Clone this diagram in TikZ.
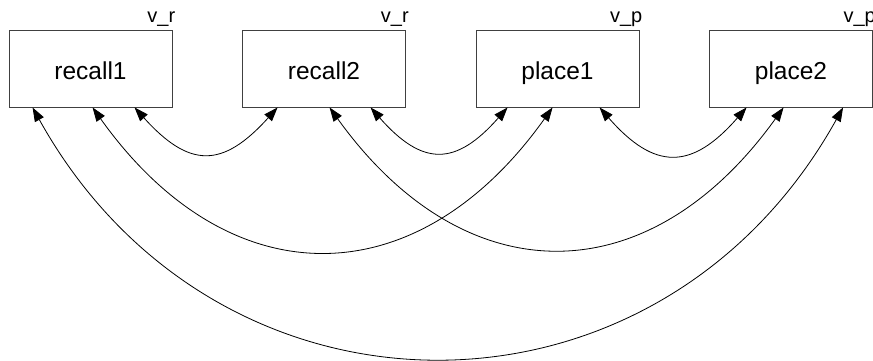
\documentclass[tikz,border=0pt]{standalone}
\usepackage{fontspec}
\setmainfont{Liberation Sans}
\usetikzlibrary{arrows.meta}
\begin{document}
\begin{tikzpicture}[x=1pt,y=-1pt,
  var/.style={draw=black!75, line width=0.9pt, minimum width=163pt, minimum height=77pt, inner sep=0pt, font=\fontsize{24.5}{28}\selectfont, text height=21pt, text depth=0pt},
  lbl/.style={anchor=base east, inner sep=0pt, font=\fontsize{20}{24}\selectfont},
  cov/.style={{Triangle[length=14pt,width=10pt]}-{Triangle[length=14pt,width=10pt]}, line width=0.8pt}]
\useasboundingbox (0,0) rectangle (873,360);
\node[var] (r1) at (90.5,68.5) {recall1};
\node[var] (r2) at (324,68.5) {recall2};
\node[var] (p1) at (557.5,68.5) {place1};
\node[var] (p2) at (791,68.5) {place2};
\node[lbl] (l1) at ([xshift=3pt,yshift=6.7pt]r1.north east) {v\_r};
\node[lbl] (l2) at ([xshift=3pt,yshift=6.7pt]r2.north east) {v\_r};
\node[lbl] (l3) at ([xshift=3pt,yshift=6.7pt]p1.north east) {v\_p};
\node[lbl] (l4) at ([xshift=3pt,yshift=6.7pt]p2.north east) {v\_p};
% short arcs
\draw[cov] ([xshift=126pt]r1.south west) .. controls +(55,61) and +(-55,61) .. ([xshift=35.5pt]r2.south west);
\draw[cov] ([xshift=128.5pt]r2.south west) .. controls +(52,59) and +(-52,59) .. ([xshift=32pt]p1.south west);
\draw[cov] ([xshift=124pt]p1.south west) .. controls +(55,63) and +(-55,63) .. ([xshift=37.5pt]p2.south west);
% medium arcs
\draw[cov] ([xshift=84pt]r1.south west) .. controls +(136,191) and +(-136,191) .. ([xshift=77pt]p1.south west);
\draw[cov] ([xshift=87.5pt]r2.south west) .. controls +(135,188) and +(-135,188) .. ([xshift=74.5pt]p2.south west);
% long arc
\draw[cov] ([xshift=24pt]r1.south west) .. controls +(185,333) and +(-185,333) .. ([xshift=134pt]p2.south west);
\end{tikzpicture}
\end{document}
